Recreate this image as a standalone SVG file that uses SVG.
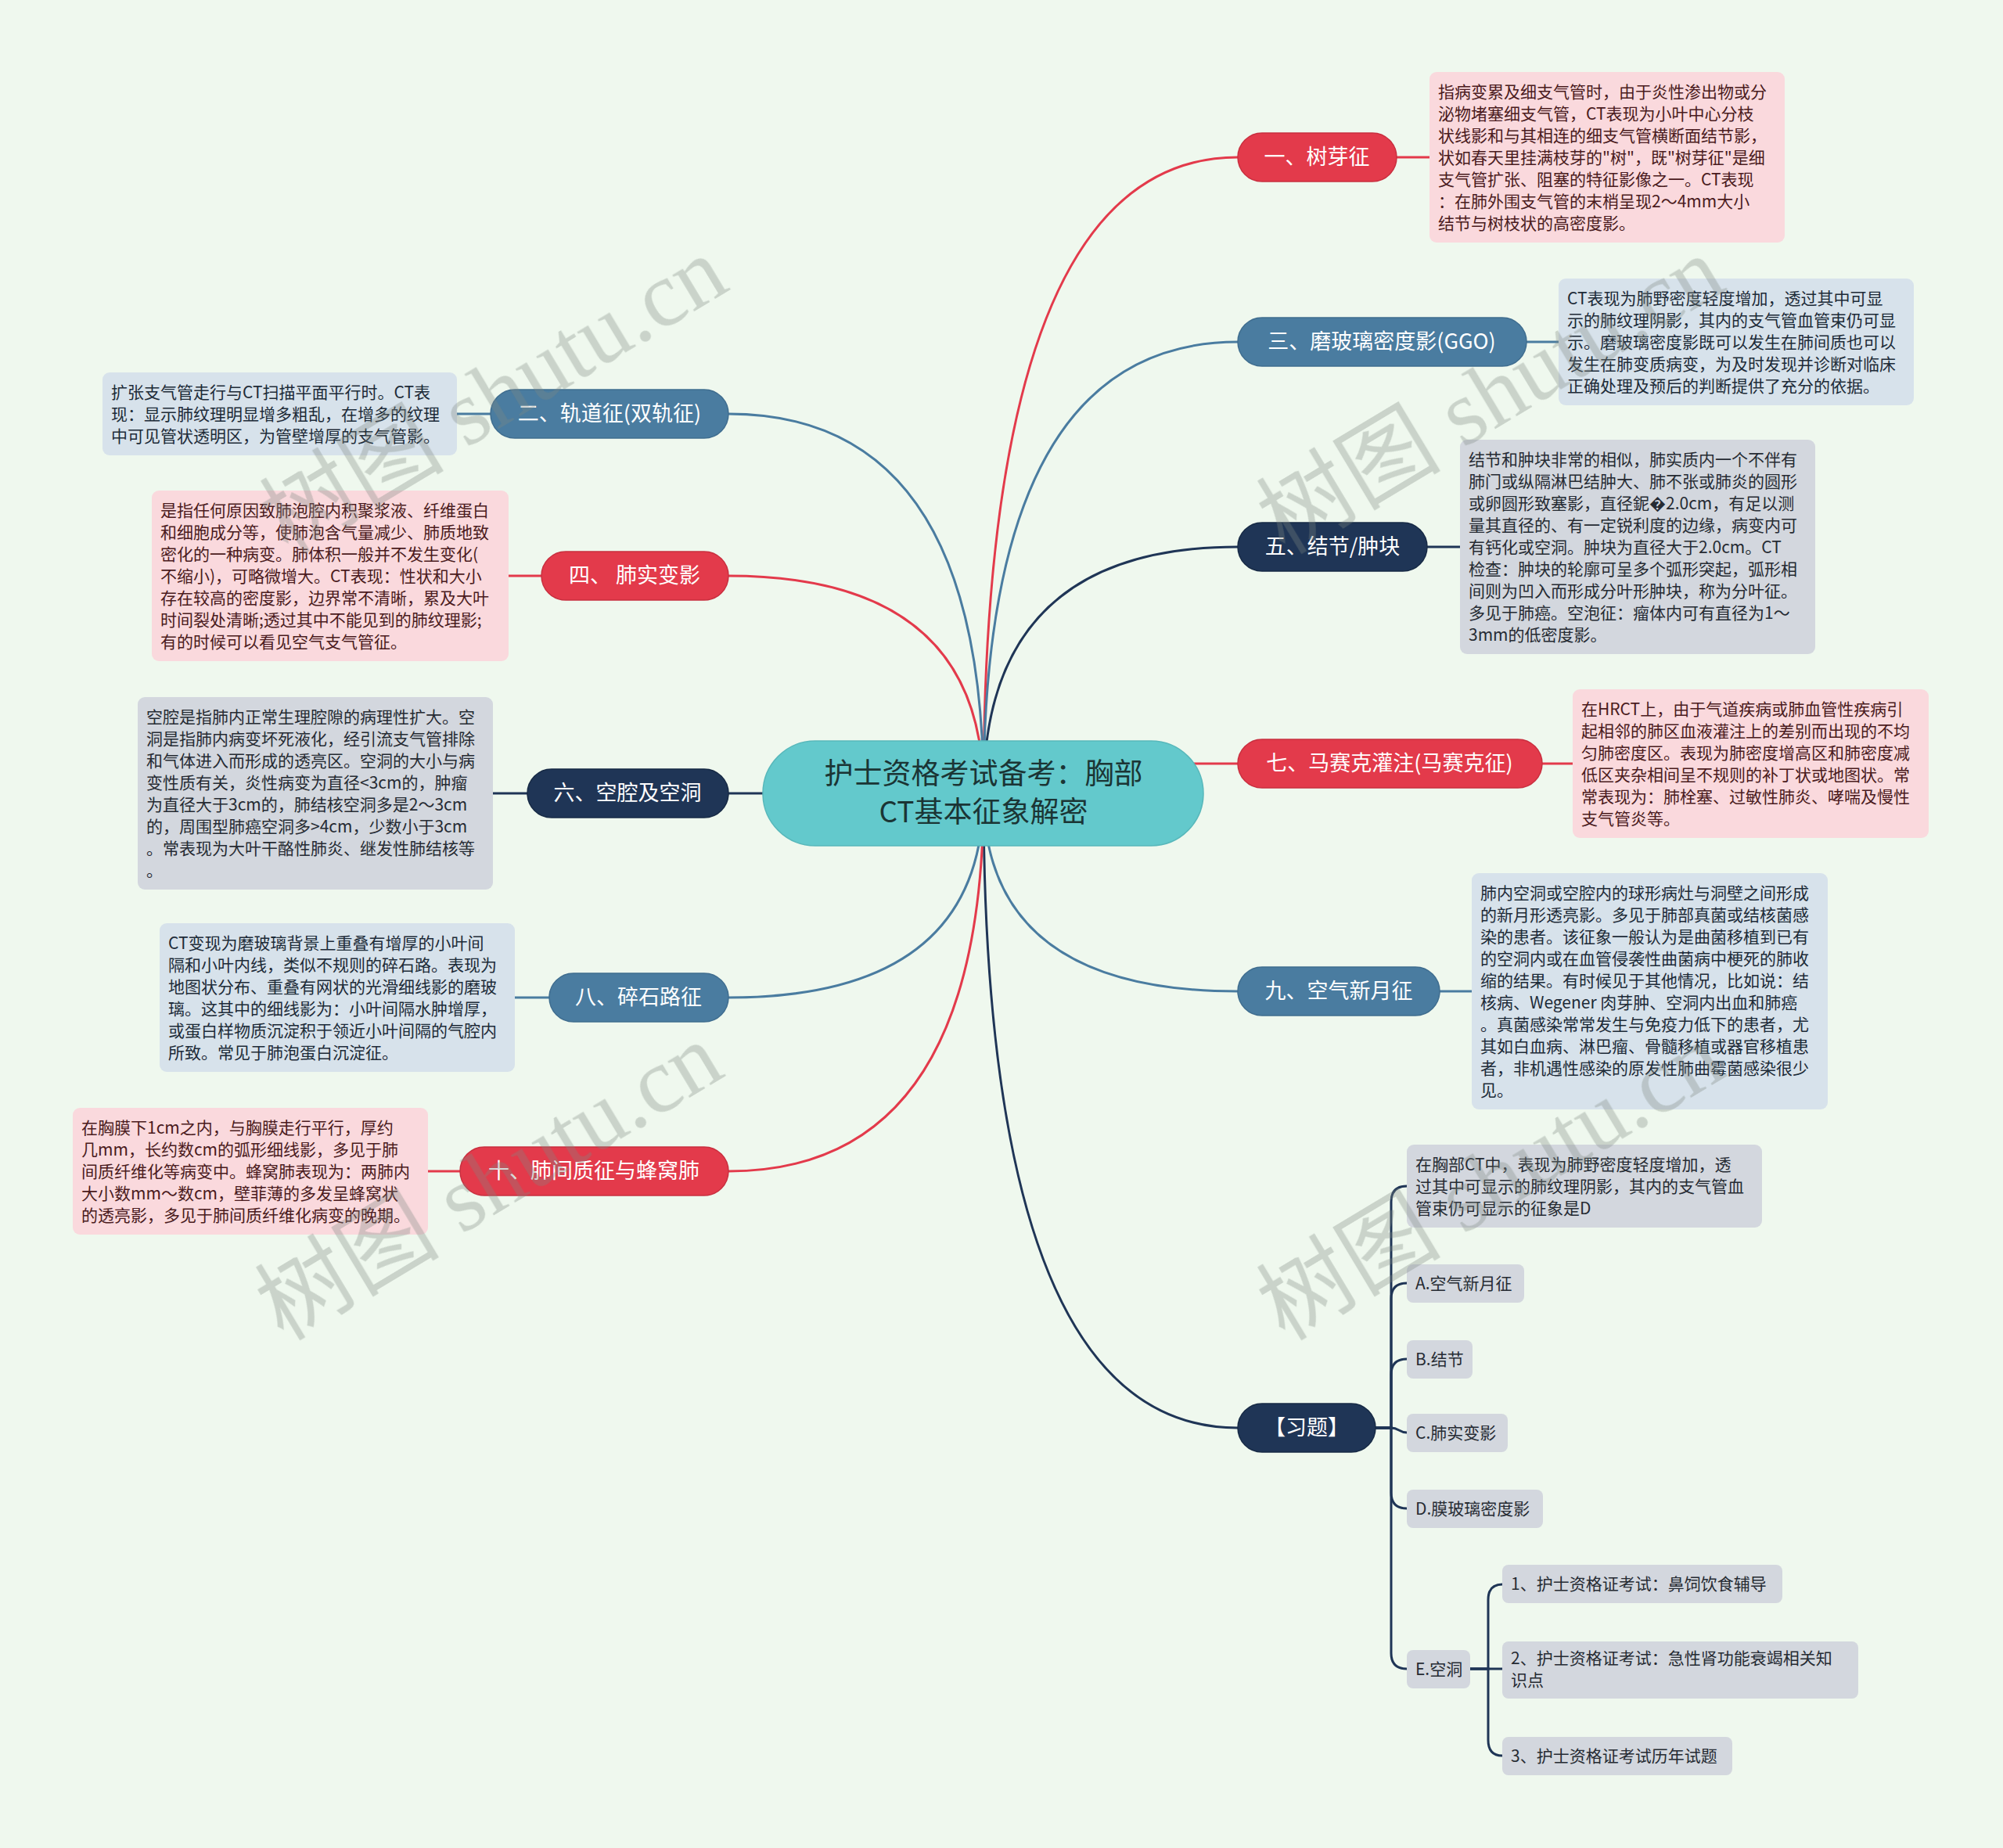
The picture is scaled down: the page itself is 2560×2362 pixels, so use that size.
<svg xmlns="http://www.w3.org/2000/svg" width="2560" height="2362" viewBox="0 0 2560 2362">
<style>
text{font-family:"Noto Sans CJK SC","Liberation Sans",sans-serif}
.red{fill:#e33a4b;stroke:#c92f3f;stroke-width:1.5}
.steel{fill:#4a7ca0;stroke:#3f6d8f;stroke-width:1.5}
.navy{fill:#1f3556;stroke:#172a45;stroke-width:1.5}
.pink{fill:#fad9dd}
.lblue{fill:#d7e2eb}
.gray{fill:#d3d7de}
.lbl{font-size:27px;fill:#ffffff;text-anchor:middle}
.desc{font-size:21px}
.tp{fill:#4a1b20}
.tb{fill:#1d2b38}
.tg{fill:#262b33}
.c{fill:none;stroke-width:3}
.cr{stroke:#e33a4b}
.cs{stroke:#4a7ca0}
.cn{stroke:#1f3556}
.wm{font-size:118px;fill:#7f8a82;opacity:0.33}
</style>
<rect x="0" y="0" width="2560" height="2362" fill="#eff8ee"/>

<g id="connectors">
<path class="c cr" d="M1257 1014 Q1257 201 1582 201"/>
<path class="c cs" d="M1257 1014 Q1257 437 1582 437"/>
<path class="c cn" d="M1257 1014 Q1257 699 1582 699"/>
<path class="c cr" d="M1450 976 H1582"/>
<path class="c cs" d="M1257 1014 Q1257 1267 1582 1267"/>
<path class="c cn" d="M1257 1014 Q1257 1825 1582 1825"/>
<path class="c cs" d="M1257 1014 Q1257 529 931 529"/>
<path class="c cr" d="M1257 1014 Q1257 736 931 736"/>
<path class="c cn" d="M931 1014 H1060"/>
<path class="c cs" d="M1257 1014 Q1257 1275 931 1275"/>
<path class="c cr" d="M1257 1014 Q1257 1497 931 1497"/>

<path class="c cr" d="M1785 201 H1827"/>
<path class="c cs" d="M1951 437 H1992"/>
<path class="c cn" d="M1824 699 H1866"/>
<path class="c cr" d="M1971 976 H2010"/>
<path class="c cs" d="M1840 1267 H1881"/>
<path class="c cs" d="M584 529 H627"/>
<path class="c cr" d="M650 736 H692"/>
<path class="c cn" d="M630 1014 H674"/>
<path class="c cs" d="M658 1275 H702"/>
<path class="c cr" d="M547 1497 H588"/>

<path class="c cn" d="M1758 1825 H1778 V1536 Q1778 1516 1798 1516"/>
<path class="c cn" d="M1758 1825 H1778 V1660 Q1778 1640 1798 1640"/>
<path class="c cn" d="M1758 1825 H1778 V1757 Q1778 1737 1798 1737"/>
<path class="c cn" d="M1758 1825 H1778 C1788 1825 1788 1831 1798 1831"/>
<path class="c cn" d="M1758 1825 H1778 V1908 Q1778 1928 1798 1928"/>
<path class="c cn" d="M1758 1825 H1778 V2113 Q1778 2133 1798 2133"/>

<path class="c cn" d="M1879 2133 H1902 V2045 Q1902 2025 1920 2025"/>
<path class="c cn" d="M1879 2133 H1920"/>
<path class="c cn" d="M1879 2133 H1902 V2224 Q1902 2244 1920 2244"/>
</g>

<g id="root">
<rect x="975" y="947" width="563" height="134" rx="67" fill="#63c9cc" stroke="#58b8bb" stroke-width="1.5"/>
<text x="1257" y="1002" font-size="37" fill="#1b3535" text-anchor="middle">护士资格考试备考：胸部</text>
<text x="1257" y="1051" font-size="37" fill="#1b3535" text-anchor="middle">CT基本征象解密</text>
</g>

<g id="n1">
<rect class="red" x="1582" y="170" width="203" height="62" rx="31"/>
<text class="lbl" x="1683" y="210">一、树芽征</text>
</g>
<g id="d1">
<rect class="pink" x="1827" y="92" width="454" height="218" rx="9"/>
<text class="desc tp">
<tspan x="1838" y="125">指病变累及细支气管时，由于炎性渗出物或分</tspan>
<tspan x="1838" y="153">泌物堵塞细支气管，CT表现为小叶中心分枝</tspan>
<tspan x="1838" y="181">状线影和与其相连的细支气管横断面结节影，</tspan>
<tspan x="1838" y="209">状如春天里挂满枝芽的"树"，既"树芽征"是细</tspan>
<tspan x="1838" y="237">支气管扩张、阻塞的特征影像之一。CT表现</tspan>
<tspan x="1838" y="265">：在肺外围支气管的末梢呈现2～4mm大小</tspan>
<tspan x="1838" y="293">结节与树枝状的高密度影。</tspan>
</text>
</g>

<g id="n3">
<rect class="steel" x="1582" y="406" width="369" height="62" rx="31"/>
<text class="lbl" x="1766" y="446">三、磨玻璃密度影(GGO)</text>
</g>
<g id="d3">
<rect class="lblue" x="1992" y="356" width="454" height="162" rx="9"/>
<text class="desc tb">
<tspan x="2003" y="389">CT表现为肺野密度轻度增加，透过其中可显</tspan>
<tspan x="2003" y="417">示的肺纹理阴影，其内的支气管血管束仍可显</tspan>
<tspan x="2003" y="445">示。磨玻璃密度影既可以发生在肺间质也可以</tspan>
<tspan x="2003" y="473">发生在肺变质病变，为及时发现并诊断对临床</tspan>
<tspan x="2003" y="501">正确处理及预后的判断提供了充分的依据。</tspan>
</text>
</g>

<g id="n5">
<rect class="navy" x="1582" y="668" width="242" height="62" rx="31"/>
<text class="lbl" x="1703" y="708">五、结节/肿块</text>
</g>
<g id="d5">
<rect class="gray" x="1866" y="562" width="454" height="274" rx="9"/>
<text class="desc tg">
<tspan x="1877" y="595">结节和肿块非常的相似，肺实质内一个不伴有</tspan>
<tspan x="1877" y="623">肺门或纵隔淋巴结肿大、肺不张或肺炎的圆形</tspan>
<tspan x="1877" y="651">或卵圆形致塞影，直径鈮�2.0cm，有足以测</tspan>
<tspan x="1877" y="679">量其直径的、有一定锐利度的边缘，病变内可</tspan>
<tspan x="1877" y="707">有钙化或空洞。肿块为直径大于2.0cm。CT</tspan>
<tspan x="1877" y="735">检查：肿块的轮廓可呈多个弧形突起，弧形相</tspan>
<tspan x="1877" y="763">间则为凹入而形成分叶形肿块，称为分叶征。</tspan>
<tspan x="1877" y="791">多见于肺癌。空泡征：瘤体内可有直径为1～</tspan>
<tspan x="1877" y="819">3mm的低密度影。</tspan>
</text>
</g>

<g id="n7">
<rect class="red" x="1582" y="945" width="389" height="62" rx="31"/>
<text class="lbl" x="1776" y="985">七、马赛克灌注(马赛克征)</text>
</g>
<g id="d7">
<rect class="pink" x="2010" y="881" width="455" height="190" rx="9"/>
<text class="desc tp">
<tspan x="2021" y="914">在HRCT上，由于气道疾病或肺血管性疾病引</tspan>
<tspan x="2021" y="942">起相邻的肺区血液灌注上的差别而出现的不均</tspan>
<tspan x="2021" y="970">匀肺密度区。表现为肺密度增高区和肺密度减</tspan>
<tspan x="2021" y="998">低区夹杂相间呈不规则的补丁状或地图状。常</tspan>
<tspan x="2021" y="1026">常表现为：肺栓塞、过敏性肺炎、哮喘及慢性</tspan>
<tspan x="2021" y="1054">支气管炎等。</tspan>
</text>
</g>

<g id="n9">
<rect class="steel" x="1582" y="1236" width="258" height="62" rx="31"/>
<text class="lbl" x="1711" y="1276">九、空气新月征</text>
</g>
<g id="d9">
<rect class="lblue" x="1881" y="1116" width="455" height="302" rx="9"/>
<text class="desc tb">
<tspan x="1892" y="1149">肺内空洞或空腔内的球形病灶与洞壁之间形成</tspan>
<tspan x="1892" y="1177">的新月形透亮影。多见于肺部真菌或结核菌感</tspan>
<tspan x="1892" y="1205">染的患者。该征象一般认为是曲菌移植到已有</tspan>
<tspan x="1892" y="1233">的空洞内或在血管侵袭性曲菌病中梗死的肺收</tspan>
<tspan x="1892" y="1261">缩的结果。有时候见于其他情况，比如说：结</tspan>
<tspan x="1892" y="1289">核病、Wegener 肉芽肿、空洞内出血和肺癌</tspan>
<tspan x="1892" y="1317">。真菌感染常常发生与免疫力低下的患者，尤</tspan>
<tspan x="1892" y="1345">其如白血病、淋巴瘤、骨髓移植或器官移植患</tspan>
<tspan x="1892" y="1373">者，非机遇性感染的原发性肺曲霉菌感染很少</tspan>
<tspan x="1892" y="1401">见。</tspan>
</text>
</g>

<g id="nx">
<rect class="navy" x="1582" y="1794" width="176" height="62" rx="31"/>
<text class="lbl" x="1670" y="1834">【习题】</text>
</g>
<g id="q">
<rect class="gray" x="1798" y="1463" width="454" height="106" rx="9"/>
<text class="desc tg">
<tspan x="1809" y="1496">在胸部CT中，表现为肺野密度轻度增加，透</tspan>
<tspan x="1809" y="1524">过其中可显示的肺纹理阴影，其内的支气管血</tspan>
<tspan x="1809" y="1552">管束仍可显示的征象是D</tspan>
</text>
</g>
<g id="qa">
<rect class="gray" x="1798" y="1616" width="150" height="49" rx="8"/>
<text class="desc tg" x="1809" y="1648">A.空气新月征</text>
</g>
<g id="qb">
<rect class="gray" x="1798" y="1713" width="84" height="49" rx="8"/>
<text class="desc tg" x="1809" y="1745">B.结节</text>
</g>
<g id="qc">
<rect class="gray" x="1798" y="1807" width="129" height="49" rx="8"/>
<text class="desc tg" x="1809" y="1839">C.肺实变影</text>
</g>
<g id="qd">
<rect class="gray" x="1798" y="1904" width="174" height="49" rx="8"/>
<text class="desc tg" x="1809" y="1936">D.膜玻璃密度影</text>
</g>
<g id="qe">
<rect class="gray" x="1798" y="2109" width="81" height="49" rx="8"/>
<text class="desc tg" x="1809" y="2141">E.空洞</text>
</g>
<g id="e1">
<rect class="gray" x="1920" y="2000" width="358" height="49" rx="8"/>
<text class="desc tg" x="1931" y="2032">1、护士资格证考试：鼻饲饮食辅导</text>
</g>
<g id="e2">
<rect class="gray" x="1920" y="2098" width="455" height="73" rx="8"/>
<text class="desc tg">
<tspan x="1931" y="2127">2、护士资格证考试：急性肾功能衰竭相关知</tspan>
<tspan x="1931" y="2155">识点</tspan>
</text>
</g>
<g id="e3">
<rect class="gray" x="1920" y="2220" width="294" height="49" rx="8"/>
<text class="desc tg" x="1931" y="2252">3、护士资格证考试历年试题</text>
</g>

<g id="n2">
<rect class="steel" x="627" y="498" width="304" height="62" rx="31"/>
<text class="lbl" x="779" y="538">二、轨道征(双轨征)</text>
</g>
<g id="d2">
<rect class="lblue" x="131" y="476" width="453" height="106" rx="9"/>
<text class="desc tb">
<tspan x="142" y="509">扩张支气管走行与CT扫描平面平行时。CT表</tspan>
<tspan x="142" y="537">现：显示肺纹理明显增多粗乱，在增多的纹理</tspan>
<tspan x="142" y="565">中可见管状透明区，为管壁增厚的支气管影。</tspan>
</text>
</g>

<g id="n4">
<rect class="red" x="692" y="705" width="239" height="62" rx="31"/>
<text class="lbl" x="811" y="745">四、 肺实变影</text>
</g>
<g id="d4">
<rect class="pink" x="194" y="627" width="456" height="218" rx="9"/>
<text class="desc tp">
<tspan x="205" y="660">是指任何原因致肺泡腔内积聚浆液、纤维蛋白</tspan>
<tspan x="205" y="688">和细胞成分等，使肺泡含气量减少、肺质地致</tspan>
<tspan x="205" y="716">密化的一种病变。肺体积一般并不发生变化(</tspan>
<tspan x="205" y="744">不缩小)，可略微增大。CT表现：性状和大小</tspan>
<tspan x="205" y="772">存在较高的密度影，边界常不清晰，累及大叶</tspan>
<tspan x="205" y="800">时间裂处清晰;透过其中不能见到的肺纹理影;</tspan>
<tspan x="205" y="828">有的时候可以看见空气支气管征。</tspan>
</text>
</g>

<g id="n6">
<rect class="navy" x="674" y="983" width="257" height="62" rx="31"/>
<text class="lbl" x="802" y="1023">六、空腔及空洞</text>
</g>
<g id="d6">
<rect class="gray" x="176" y="891" width="454" height="246" rx="9"/>
<text class="desc tg">
<tspan x="187" y="924">空腔是指肺内正常生理腔隙的病理性扩大。空</tspan>
<tspan x="187" y="952">洞是指肺内病变坏死液化，经引流支气管排除</tspan>
<tspan x="187" y="980">和气体进入而形成的透亮区。空洞的大小与病</tspan>
<tspan x="187" y="1008">变性质有关，炎性病变为直径&lt;3cm的，肿瘤</tspan>
<tspan x="187" y="1036">为直径大于3cm的，肺结核空洞多是2～3cm</tspan>
<tspan x="187" y="1064">的，周围型肺癌空洞多&gt;4cm，少数小于3cm</tspan>
<tspan x="187" y="1092">。常表现为大叶干酪性肺炎、继发性肺结核等</tspan>
<tspan x="187" y="1120">。</tspan>
</text>
</g>

<g id="n8">
<rect class="steel" x="702" y="1244" width="229" height="62" rx="31"/>
<text class="lbl" x="816" y="1284">八、碎石路征</text>
</g>
<g id="d8">
<rect class="lblue" x="204" y="1180" width="454" height="190" rx="9"/>
<text class="desc tb">
<tspan x="215" y="1213">CT变现为磨玻璃背景上重叠有增厚的小叶间</tspan>
<tspan x="215" y="1241">隔和小叶内线，类似不规则的碎石路。表现为</tspan>
<tspan x="215" y="1269">地图状分布、重叠有网状的光滑细线影的磨玻</tspan>
<tspan x="215" y="1297">璃。这其中的细线影为：小叶间隔水肿增厚，</tspan>
<tspan x="215" y="1325">或蛋白样物质沉淀积于领近小叶间隔的气腔内</tspan>
<tspan x="215" y="1353">所致。常见于肺泡蛋白沉淀征。</tspan>
</text>
</g>

<g id="n10">
<rect class="red" x="588" y="1466" width="343" height="62" rx="31"/>
<text class="lbl" x="759" y="1506">十、肺间质征与蜂窝肺</text>
</g>
<g id="d10">
<rect class="pink" x="93" y="1416" width="454" height="162" rx="9"/>
<text class="desc tp">
<tspan x="104" y="1449">在胸膜下1cm之内，与胸膜走行平行，厚约</tspan>
<tspan x="104" y="1477">几mm，长约数cm的弧形细线影，多见于肺</tspan>
<tspan x="104" y="1505">间质纤维化等病变中。蜂窝肺表现为：两肺内</tspan>
<tspan x="104" y="1533">大小数mm～数cm，壁菲薄的多发呈蜂窝状</tspan>
<tspan x="104" y="1561">的透亮影，多见于肺间质纤维化病变的晚期。</tspan>
</text>
</g>

<g id="watermark" class="wm">
<text transform="translate(368,710) rotate(-31)"><tspan font-family="Noto Sans CJK SC">树图</tspan><tspan font-family="Liberation Serif"> shutu.cn</tspan></text>
<text transform="translate(1642,710) rotate(-31)"><tspan font-family="Noto Sans CJK SC">树图</tspan><tspan font-family="Liberation Serif"> shutu.cn</tspan></text>
<text transform="translate(362,1715) rotate(-31)"><tspan font-family="Noto Sans CJK SC">树图</tspan><tspan font-family="Liberation Serif"> shutu.cn</tspan></text>
<text transform="translate(1642,1715) rotate(-31)"><tspan font-family="Noto Sans CJK SC">树图</tspan><tspan font-family="Liberation Serif"> shutu.cn</tspan></text>
</g>
</svg>
